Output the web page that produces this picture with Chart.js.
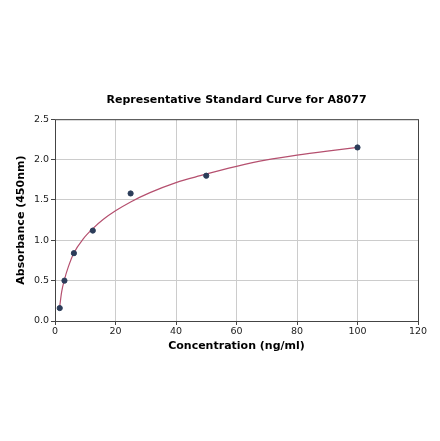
<!DOCTYPE html>
<html>
<head>
<meta charset="utf-8">
<script src="https://cdn.jsdelivr.net/npm/chart.js@4"></script>
<style>
    html, body { margin: 0; padding: 0; background: #ffffff; }
    #chart { display: block; }
</style>
</head>
<body>
<canvas id="chart" width="440" height="441"></canvas>
<script>
// Standard points (concentration ng/ml, absorbance 450nm)
const concentrations = [1.56, 3.125, 6.25, 12.5, 25, 50, 100];
const absorbances = [0.16, 0.50, 0.84, 1.12, 1.58, 1.80, 2.15];

// Fitted curve
const curveX = [1.56, 2.2, 3.1, 4.4, 6.2, 9.4, 12.5, 16, 20, 25, 31.4, 40, 48, 60, 70, 80, 90, 100];
const curveY = [0.18, 0.36, 0.51, 0.67, 0.84, 1.02, 1.145, 1.26, 1.365, 1.475, 1.59, 1.715, 1.80, 1.915, 1.995, 2.055, 2.105, 2.15];

const xTicks = [0, 20, 40, 60, 80, 100, 120];
const yTicks = [0, 0.5, 1.0, 1.5, 2.0, 2.5];

const chartTitle = 'Representative Standard Curve for A8077';
const xTitle = 'Concentration (ng/ml)';
const yTitle = 'Absorbance (450nm)';

// Frame round the plot area (matplotlib-like box)
const framePlugin = {
    id: 'frame',
    afterDatasetsDraw(chart) {
        const { ctx, chartArea } = chart;
        ctx.save();
        ctx.strokeStyle = '#444444';
        ctx.lineWidth = 1;
        ctx.strokeRect(chartArea.left + 0.5, chartArea.top + 0.5,
            chartArea.right - chartArea.left, chartArea.bottom - chartArea.top);
        ctx.restore();
    }
};

const fontFamily = '"DejaVu Sans", sans-serif';

new Chart(document.getElementById('chart'), {
    type: 'scatter',
    data: {
        datasets: [
            {
                label: 'Fit',
                data: curveX.map((x, i) => ({ x: x, y: curveY[i] })),
                showLine: true,
                borderColor: '#b5506f',
                borderWidth: 1.2,
                pointRadius: 0,
                cubicInterpolationMode: 'monotone',
                order: 2
            },
            {
                label: 'Standards',
                data: concentrations.map((x, i) => ({ x: x, y: absorbances[i] })),
                backgroundColor: '#2c3d5a',
                borderColor: '#2c3d5a',
                pointRadius: 2.6,
                order: 1
            }
        ]
    },
    options: {
        responsive: false,
        animation: false,
        devicePixelRatio: 1,
        layout: { padding: { left: 0, right: 22, top: 0, bottom: 0 } },
        plugins: {
            legend: { display: false },
            tooltip: { enabled: false },
            title: {
                display: true,
                text: chartTitle,
                fullSize: false,
                color: '#000000',
                font: { family: fontFamily, size: 11, weight: 'bold' },
                padding: { top: 94, bottom: 12 }
            }
        },
        scales: {
            x: {
                type: 'linear',
                min: 0,
                max: 120,
                afterBuildTicks: (scale) => { scale.ticks = xTicks.map(v => ({ value: v })); },
                afterFit: (scale) => { scale.height = 120; },
                ticks: {
                    color: '#222222',
                    padding: 1,
                    maxRotation: 0,
                    font: { family: fontFamily, size: 9.5 }
                },
                grid: { color: '#cccccc', lineWidth: 1, tickLength: 4, tickColor: '#444444' },
                border: { display: false },
                title: {
                    display: true,
                    text: xTitle,
                    color: '#000000',
                    font: { family: fontFamily, size: 11, weight: 'bold' },
                    padding: { top: 0, bottom: 88 }
                }
            },
            y: {
                type: 'linear',
                min: 0,
                max: 2.5,
                afterBuildTicks: (scale) => { scale.ticks = yTicks.map(v => ({ value: v })); },
                afterFit: (scale) => { scale.width = 55; },
                ticks: {
                    color: '#222222',
                    padding: 2,
                    callback: (v) => Number(v).toFixed(1),
                    font: { family: fontFamily, size: 9.5 }
                },
                grid: { color: '#cccccc', lineWidth: 1, tickLength: 4, tickColor: '#444444' },
                border: { display: false },
                title: {
                    display: true,
                    text: yTitle,
                    color: '#000000',
                    font: { family: fontFamily, size: 11, weight: 'bold' },
                    padding: { top: 15, bottom: 0 }
                }
            }
        }
    },
    plugins: [framePlugin]
});
</script>
</body>
</html>
